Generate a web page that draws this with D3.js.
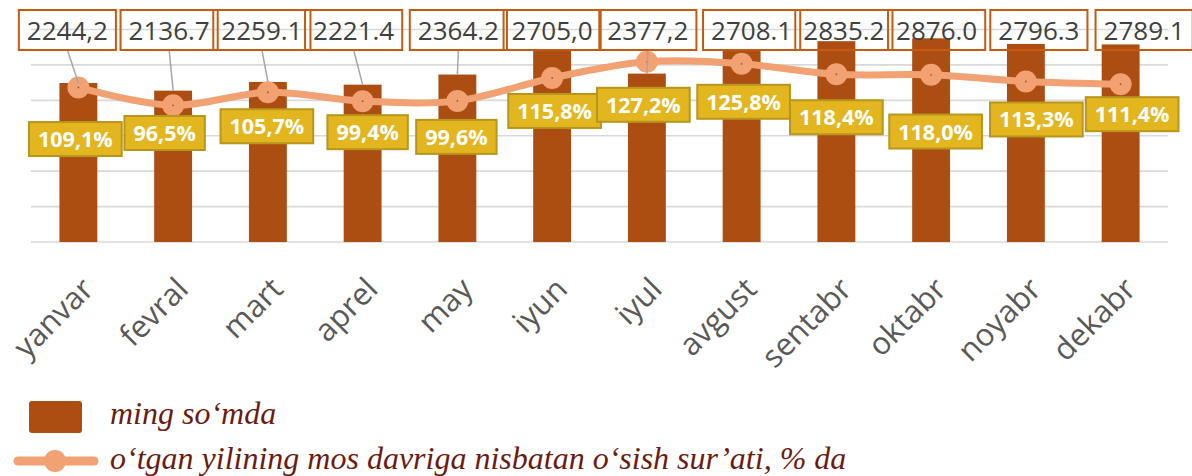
<!DOCTYPE html>
<html>
<head>
<meta charset="utf-8">
<script src="https://cdn.jsdelivr.net/npm/d3@7/dist/d3.min.js"></script>
<style>
  html, body { margin: 0; padding: 0; background: #ffffff; }
  svg { display: block; }
</style>
</head>
<body>
<svg id="chart" width="1192" height="476"></svg>
<script>
// Monthly average wage (thousand so'm) and growth vs. same period of previous year (%)
const months = ["yanvar", "fevral", "mart", "aprel", "may", "iyun", "iyul", "avgust", "sentabr", "oktabr", "noyabr", "dekabr"];
const wage = [2244.2, 2136.7, 2259.1, 2221.4, 2364.2, 2705.0, 2377.2, 2708.1, 2835.2, 2876.0, 2796.3, 2789.1];
const wageLabels = ["2244,2", "2136.7", "2259.1", "2221.4", "2364.2", "2705,0", "2377,2", "2708.1", "2835.2", "2876.0", "2796.3", "2789.1"];
const growth = [109.1, 96.5, 105.7, 99.4, 99.6, 115.8, 127.2, 125.8, 118.4, 118.0, 113.3, 111.4];
const growthLabels = ["109,1%", "96,5%", "105,7%", "99,4%", "99,6%", "115,8%", "127,2%", "125,8%", "118,4%", "118,0%", "113,3%", "111,4%"];
const wageTicks = [0, 500, 1000, 1500, 2000, 2500, 3000];
const legendNames = ["ming so\u2018mda", "o\u2018tgan yilining mos davriga nisbatan o\u2018sish sur\u2019ati, % da"];

// Hand-placed label offsets (px) relative to their data point
const wageLabelShift = [-11, -4, -6, -9, 1, 0, 1, 10, 7.5, 5.5, 13, 23.5];
const growthLabelShift = [[-3, 51.6], [-8.5, 27.7], [-1, 34], [5, 31], [-1, 36], [2.5, 33], [-3.5, 43], [2, 38], [0, 43], [4.5, 56.7], [10.5, 38], [11.5, 30]];

const C = {
  bar: "#AC4D12",
  line: "#F2A172",
  grid: "#D9D9D9",
  boxStroke: "#C55A11",
  boxText: "#404040",
  gold: "#E3B620",
  goldStroke: "#B8951C",
  axisText: "#595959",
  legendText: "#6B1C12",
  leader: "#A6A6A6"
};

const svg = d3.select("#chart");
const plot = { left: 31, right: 1168, top: 29.5, bottom: 242 };

const x = d3.scaleBand().domain(months).range([plot.left, plot.right]).padding(0);
const y = d3.scaleLinear().domain([0, 3000]).range([plot.bottom, plot.top]);
const y2 = d3.scaleLinear().domain([0, 150]).range([plot.bottom, plot.top]);
const cx = m => x(m) + x.bandwidth() / 2;
const barW = x.bandwidth() * 0.4;

// Horizontal gridlines
svg.append("g").selectAll("line").data(wageTicks).join("line")
  .attr("x1", plot.left).attr("x2", plot.right)
  .attr("y1", d => y(d)).attr("y2", d => y(d))
  .attr("stroke", C.grid).attr("stroke-width", 1.6);

// Bars
svg.append("g").selectAll("rect").data(wage).join("rect")
  .attr("x", (d, i) => cx(months[i]) - barW / 2)
  .attr("width", barW)
  .attr("y", d => y(d))
  .attr("height", d => y(0) - y(d))
  .attr("fill", C.bar);

// Growth line (smoothed)
const linePath = d3.line()
  .x((d, i) => cx(months[i]))
  .y(d => y2(d))
  .curve(d3.curveCatmullRom.alpha(0.5));
svg.append("path").datum(growth)
  .attr("d", linePath)
  .attr("fill", "none")
  .attr("stroke", C.line)
  .attr("stroke-width", 7)
  .attr("stroke-linejoin", "round");

const markers = svg.append("g");
markers.selectAll("circle.mk").data(growth).join("circle")
  .attr("class", "mk")
  .attr("cx", (d, i) => cx(months[i]))
  .attr("cy", d => y2(d))
  .attr("r", 11)
  .attr("fill", C.line);
markers.selectAll("circle.dot").data(growth).join("circle")
  .attr("class", "dot")
  .attr("cx", (d, i) => cx(months[i]))
  .attr("cy", d => y2(d))
  .attr("r", 0.9)
  .attr("fill", "#9a5a3c");

// Wage value labels (outlined boxes above the bars, with leader lines)
const boxTop = 10, boxH = 40;
const wageG = svg.append("g");
wage.forEach((v, i) => {
  const bx = cx(months[i]) + wageLabelShift[i];
  const g = wageG.append("g");
  const t = g.append("text")
    .attr("x", bx).attr("y", boxTop + 30)
    .attr("text-anchor", "middle")
    .attr("font-family", "'Open Sans', sans-serif")
    .attr("font-size", 26)
    .attr("fill", C.boxText)
    .text(wageLabels[i]);
  const w = t.node().getComputedTextLength() + 16;
  g.insert("rect", "text")
    .attr("x", bx - w / 2).attr("y", boxTop)
    .attr("width", w).attr("height", boxH)
    .attr("fill", "none")
    .attr("stroke", C.boxStroke).attr("stroke-width", 2);
  const barTop = y(v);
  if (barTop - (boxTop + boxH) > 15) {
    wageG.insert("line", ":first-child")
      .attr("x1", bx).attr("y1", boxTop + boxH)
      .attr("x2", cx(months[i])).attr("y2", barTop)
      .attr("stroke", C.leader).attr("stroke-width", 1.5);
  }
});

// Growth value labels (gold boxes)
const growthG = svg.append("g");
growth.forEach((v, i) => {
  const lx = cx(months[i]) + growthLabelShift[i][0];
  const ly = y2(v) + growthLabelShift[i][1];
  const g = growthG.append("g");
  const t = g.append("text")
    .attr("x", lx).attr("y", ly + 8)
    .attr("text-anchor", "middle")
    .attr("font-family", "'Open Sans', sans-serif")
    .attr("font-weight", 700)
    .attr("font-size", 21.5)
    .attr("fill", "#ffffff")
    .text(growthLabels[i]);
  const w = t.node().getComputedTextLength() + 18;
  const h = 34;
  g.insert("rect", "text")
    .attr("x", lx - w / 2).attr("y", ly - h / 2)
    .attr("width", w).attr("height", h)
    .attr("fill", C.gold)
    .attr("stroke", C.goldStroke).attr("stroke-width", 2);
});

// Category axis labels, rotated
svg.append("g").selectAll("text").data(months).join("text")
  .attr("transform", d => `translate(${cx(d) + 17},${291}) rotate(-45)`)
  .attr("text-anchor", "end")
  .attr("font-family", "'Open Sans', sans-serif")
  .attr("font-size", 31)
  .attr("fill", C.axisText)
  .text(d => d);

// Legend
const lg = svg.append("g");
lg.append("rect")
  .attr("x", 29).attr("y", 401).attr("width", 53).attr("height", 32)
  .attr("rx", 3).attr("fill", C.bar);
lg.append("text")
  .attr("x", 110).attr("y", 424)
  .attr("font-family", "'Liberation Serif', serif")
  .attr("font-style", "italic")
  .attr("font-size", 32)
  .attr("fill", C.legendText)
  .text(legendNames[0]);
lg.append("line")
  .attr("x1", 18).attr("x2", 94).attr("y1", 461).attr("y2", 461)
  .attr("stroke", C.line).attr("stroke-width", 9).attr("stroke-linecap", "round");
lg.append("circle")
  .attr("cx", 55).attr("cy", 461).attr("r", 11).attr("fill", C.line);
lg.append("text")
  .attr("x", 110).attr("y", 469)
  .attr("font-family", "'Liberation Serif', serif")
  .attr("font-style", "italic")
  .attr("font-size", 32)
  .attr("fill", C.legendText)
  .text(legendNames[1]);
</script>
</body>
</html>
